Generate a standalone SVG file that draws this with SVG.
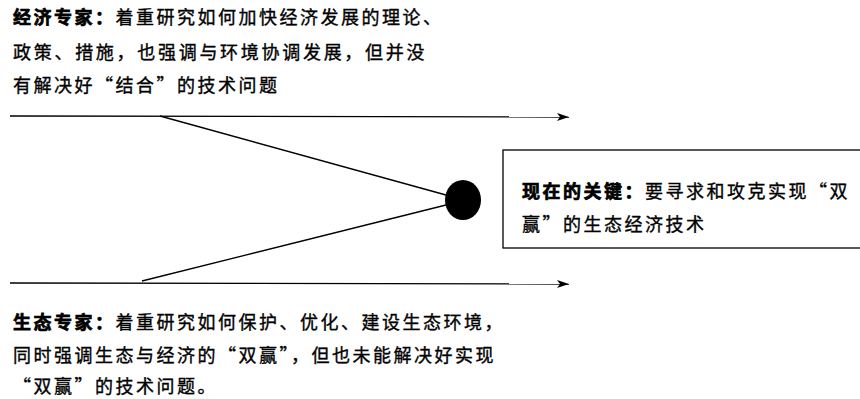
<svg xmlns="http://www.w3.org/2000/svg" width="860" height="399" viewBox="0 0 860 399">
<style>
text{font-family:"Noto Sans CJK SC","Noto Sans",sans-serif;font-size:18px;letter-spacing:2.5px;fill:#000;stroke:#000;stroke-width:0.35}
.b{font-weight:bold;stroke-width:0.7}
.ln{stroke:#000;stroke-width:1.3;fill:none}
</style>
<defs>
<marker id="ah" viewBox="0 0 12 10" refX="12" refY="5" markerWidth="12" markerHeight="10" markerUnits="userSpaceOnUse" orient="auto">
<path d="M0,1 L12,5 L0,9 L3,5 Z" fill="#000"/>
</marker>
</defs>
<rect width="860" height="399" fill="#fff"/>
<g id="connectors">
<line class="ln" x1="10" y1="116" x2="569" y2="117" marker-end="url(#ah)"/>
<line class="ln" x1="10" y1="283" x2="569" y2="284" marker-end="url(#ah)"/>
<line class="ln" x1="160" y1="116" x2="446" y2="195"/>
<line class="ln" x1="142" y1="281" x2="446" y2="205"/>
</g>
<g id="economist">
<text x="13" y="24"><tspan class="b">经济专家：</tspan>着重研究如何加快经济发展的理论、</text>
<text x="13" y="59" textLength="414" lengthAdjust="spacing">政策、措施，也强调与环境协调发展，但并没</text>
<text x="13" y="92">有解决好“结合”的技术问题</text>
</g>
<g id="junction">
<ellipse cx="463" cy="200" rx="18" ry="20" fill="#000"/>
</g>
<g id="key">
<rect x="503" y="150" width="362" height="98" fill="#fff" stroke="#000" stroke-width="1.3"/>
<text x="522" y="198"><tspan class="b">现在的关键：</tspan>要寻求和攻克实现“双</text>
<text x="522" y="231">赢”的生态经济技术</text>
</g>
<g id="ecologist">
<text x="13" y="329"><tspan class="b">生态专家：</tspan>着重研究如何保护、优化、建设生态环境，</text>
<text x="13" y="362">同时强调生态与经济的“双赢”，但也未能解决好实现</text>
<text x="13" y="393">“双赢”的技术问题。</text>
</g>
</svg>
